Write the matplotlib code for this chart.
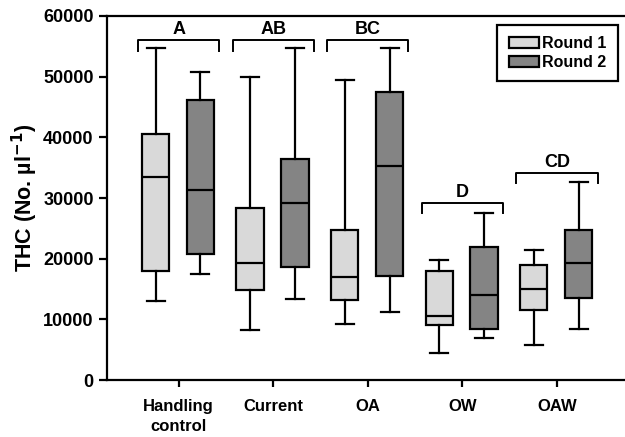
import matplotlib.pyplot as plt
from matplotlib.patches import Patch
import numpy as np

plt.rcParams['font.family'] = ['Liberation Sans', 'DejaVu Sans']
plt.rcParams['font.weight'] = 'bold'

groups = ['Handling\ncontrol', 'Current', 'OA', 'OW', 'OAW']
# whislo, q1, med, q3, whishi for each group
round1 = [
    (13100, 18000, 33500, 40500, 54700),
    (8300, 14800, 19300, 28300, 50000),
    (9200, 13200, 17000, 24800, 49400),
    (4400, 9100, 10550, 17960, 19700),
    (5800, 11500, 14950, 18950, 21400),
]
round2 = [
    (17500, 20800, 31400, 46200, 50800),
    (13350, 18600, 29100, 36500, 54700),
    (11250, 17100, 35300, 47500, 54650),
    (6970, 8450, 14060, 22000, 27500),
    (8400, 13500, 19300, 24800, 32600),
]
# significance brackets: (first group, last group, bracket height, letter)
brackets = [(0, 0, 56000, 'A'), (1, 1, 56000, 'AB'), (2, 2, 56000, 'BC'),
            (3, 3, 29200, 'D'), (4, 4, 34100, 'CD')]

col1 = '#d9d9d9'
col2 = '#848484'


def to_stats(rows):
    out = []
    for lo, q1, med, q3, hi in rows:
        out.append(dict(whislo=lo, q1=q1, med=med, q3=q3, whishi=hi, fliers=[]))
    return out


fig = plt.figure(figsize=(6.25, 4.37), dpi=100)
ax = fig.add_axes([0.171, 0.1304, 0.829, 0.833])

x = np.arange(len(groups))
lw = 1.6
for stats, off, col in [(round1, -0.245, col1), (round2, 0.23, col2)]:
    ax.bxp(to_stats(stats), positions=x + off, widths=0.29, capwidths=0.19,
           patch_artist=True, showfliers=False,
           boxprops=dict(facecolor=col, edgecolor='black', linewidth=lw),
           medianprops=dict(color='black', linewidth=lw),
           whiskerprops=dict(color='black', linewidth=lw),
           capprops=dict(color='black', linewidth=lw))

for g0, g1, h, txt in brackets:
    xl = x[g0] - 0.43
    xr = x[g1] + 0.43
    ax.plot([xl, xl, xr, xr], [h - 1700, h, h, h - 1700], color='black',
            lw=1.4, solid_joinstyle='round')
    ax.text((xl + xr) / 2, h + 300, txt, ha='center', va='bottom',
            fontsize=13, fontweight='bold')

ax.set_xlim(-0.76, 4.72)
ax.set_ylim(0, 60000)
ax.set_yticks(np.arange(0, 60001, 10000))
ax.set_xticks(x)
ax.set_xticklabels(groups, fontsize=12, fontweight='bold', linespacing=1.4)
ax.tick_params(axis='y', labelsize=13, width=1.6, length=6, direction='out')
ax.tick_params(axis='x', width=1.6, length=5, direction='out', pad=9)
for lab in ax.get_yticklabels():
    lab.set_fontweight('bold')
ax.set_ylabel('THC (No. µl$^{\\mathbf{-1}}$)', fontsize=15.5, fontweight='bold',
              labelpad=2)
ax.spines['right'].set_visible(False)
for s in ['left', 'bottom', 'top']:
    ax.spines[s].set_linewidth(1.6)

handles = [Patch(facecolor=col1, edgecolor='black', linewidth=1.6, label='Round 1'),
           Patch(facecolor=col2, edgecolor='black', linewidth=1.6, label='Round 2')]
leg = ax.legend(handles=handles, loc='upper right', bbox_to_anchor=(0.986, 0.975),
                borderaxespad=0, frameon=True, fancybox=False, framealpha=1,
                handlelength=1.9, handleheight=0.7, handletextpad=0.2,
                labelspacing=0.25, borderpad=0.7,
                prop=dict(weight='bold', size=11.5))
leg.get_frame().set_edgecolor('black')
leg.get_frame().set_linewidth(1.6)

fig.savefig('out.png', dpi=100)
